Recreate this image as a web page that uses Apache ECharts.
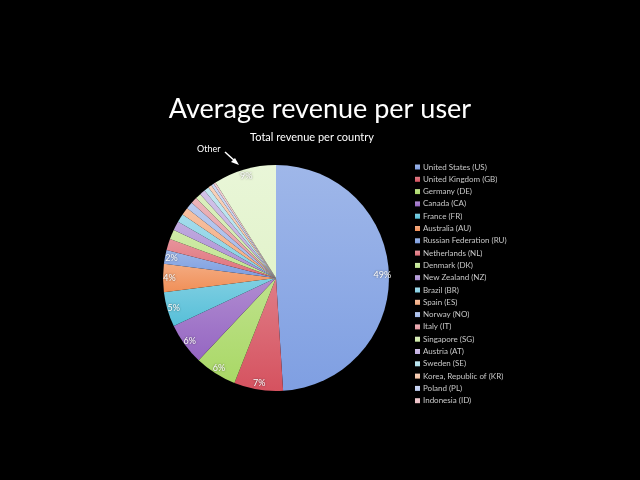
<!DOCTYPE html>
<html>
<head>
<meta charset="utf-8">
<script src="https://cdn.jsdelivr.net/npm/echarts@6/dist/echarts.min.js"></script>
<style>
  html, body { margin: 0; padding: 0; background: #000; }
  #chart { width: 640px; height: 480px; }
</style>
</head>
<body>
<div id="chart"></div>
<script>
// data (percent of total revenue)
var countries = ['United States (US)', 'United Kingdom (GB)', 'Germany (DE)', 'Canada (CA)',
    'France (FR)', 'Australia (AU)', 'Russian Federation (RU)', 'Netherlands (NL)',
    'Denmark (DK)', 'New Zealand (NZ)', 'Brazil (BR)', 'Spain (ES)', 'Norway (NO)',
    'Italy (IT)', 'Singapore (SG)', 'Austria (AT)', 'Sweden (SE)',
    'Korea, Republic of (KR)', 'Poland (PL)', 'Indonesia (ID)'];
var shares = [49, 7, 6, 6, 5, 4, 2, 1.6, 1.4, 1.3, 1.2, 1.1, 1.0, 0.9, 0.8, 0.8, 0.7, 0.5, 0.4, 0.3];
var otherName = 'Other';
var otherShare = 9;

// slice colours, excel-like palette getting lighter each round
var sliceColors = ['#7f9fe2', '#d5525f', '#a9d866', '#9566c2', '#56bfd8', '#f08f57',
    '#7b9de0', '#df6f79', '#bfe48c', '#ab8ed4', '#84d0e4', '#f4ab80',
    '#a2b8ea', '#e69aa2', '#cfeaa8', '#c1ace0', '#aedfec', '#f5c3a4',
    '#bccbf0', '#ecbdc4', '#e2f3cb'];

function lighten(hex, k) {
    var n = parseInt(hex.slice(1), 16);
    var r = (n >> 16) & 255, g = (n >> 8) & 255, b = n & 255;
    r = Math.round(r + (255 - r) * k);
    g = Math.round(g + (255 - g) * k);
    b = Math.round(b + (255 - b) * k);
    return 'rgb(' + r + ',' + g + ',' + b + ')';
}

var pieData = [];
var labelData = [];
var names = countries.concat([otherName]);
var values = shares.concat([otherShare]);
for (var i = 0; i < names.length; i++) {
    var c = sliceColors[i];
    pieData.push({
        name: names[i],
        value: values[i],
        itemStyle: {
            color: new echarts.graphic.LinearGradient(0, 0, 0, 1, [
                { offset: 0, color: lighten(c, 0.25) },
                { offset: 1, color: c }
            ])
        }
    });
    labelData.push({ name: names[i], value: values[i] });
}

var chart = echarts.init(document.getElementById('chart'));
chart.setOption({
    backgroundColor: '#000',
    animation: false,
    title: [
        {
            text: 'Average revenue per user',
            left: 'center', top: 91,
            textStyle: { color: '#fff', fontSize: 27, fontWeight: 'normal', fontFamily: 'Lato' }
        },
        {
            text: 'Total revenue per country',
            left: 307, top: 127, textAlign: 'center',
            textStyle: { color: '#fff', fontSize: 11, fontWeight: 'normal', fontFamily: 'Lato' }
        }
    ],
    legend: {
        data: countries,
        orient: 'vertical',
        left: 410, top: 158,
        itemWidth: 5, itemHeight: 5, itemGap: 4.3,
        icon: 'rect',
        textStyle: { color: '#c8c8c8', fontSize: 8, lineHeight: 8, fontFamily: 'Lato', padding: [0, 0, 0, -2] }
    },
    series: [
        {
            name: 'revenue',
            type: 'pie',
            center: [276, 278],
            radius: [0, 113],
            startAngle: 90,
            clockwise: true,
            label: { show: false },
            labelLine: { show: false },
            emphasis: { disabled: true },
            data: pieData
        },
        {
            // transparent ring only for the percent labels near the rim
            name: 'labels',
            type: 'pie',
            center: [276, 278],
            radius: [94, 113],
            startAngle: 90,
            clockwise: true,
            silent: true,
            itemStyle: { color: 'rgba(0,0,0,0)' },
            label: {
                show: true,
                position: 'inside',
                color: '#fff',
                fontSize: 9,
                fontFamily: 'Lato',
                textShadowColor: 'rgba(0,0,0,0.6)',
                textShadowBlur: 2,
                formatter: function (p) {
                    return p.value >= 2 ? Math.round(p.value) + '%' : '';
                }
            },
            labelLine: { show: false },
            emphasis: { disabled: true },
            data: labelData
        }
    ],
    graphic: [
        {
            type: 'text', left: 197, top: 145,
            style: { text: 'Other', fill: '#fff', fontSize: 9, fontFamily: 'Lato' }
        },
        {
            type: 'line',
            shape: { x1: 225, y1: 152, x2: 236, y2: 162 },
            style: { stroke: '#fff', lineWidth: 1.5 }
        },
        {
            type: 'polygon',
            shape: { points: [[239, 165], [231, 162], [235, 158]] },
            style: { fill: '#fff' }
        }
    ]
});
</script>
</body>
</html>
